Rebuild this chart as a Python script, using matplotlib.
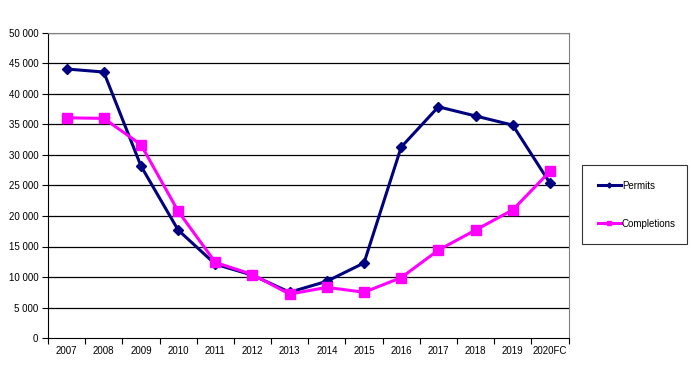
import matplotlib
matplotlib.use("Agg")
import matplotlib.pyplot as plt
import numpy as np

years = ["2007", "2008", "2009", "2010", "2011", "2012", "2013", "2014",
         "2015", "2016", "2017", "2018", "2019", "2020FC"]
permits = [44100, 43600, 28200, 17700, 12100, 10300, 7500, 9300,
           12300, 31300, 37900, 36400, 34900, 25400]
completions = [36100, 36000, 31700, 20800, 12400, 10400, 7200, 8300,
               7500, 9900, 14400, 17700, 21000, 27300]
yticks = list(range(0, 50001, 5000))

plt.rcParams['font.family'] = ['Liberation Sans', 'DejaVu Sans']

fig = plt.figure(figsize=(6.91, 3.72), dpi=100)
W, H = 691, 372
ax = fig.add_axes([48 / W, 1 - 338 / H, (568.5 - 48) / W, (338 - 33) / H])

x = np.arange(len(years))
ax.plot(x, permits, color="#000080", lw=2.2, marker="D", ms=5, label="Permits", zorder=3)
ax.plot(x, completions, color="#FF00FF", lw=2.2, marker="s", ms=7, label="Completions", zorder=3)

ax.set_xlim(-0.5, len(years) - 0.5)
ax.set_ylim(0, 50000)
ax.set_yticks(yticks)
ax.set_yticklabels([f"{v:,}".replace(",", " ") for v in yticks], fontsize=7)
for v in yticks[1:]:
    ax.axhline(v, color="black", lw=0.9, zorder=1)

ax.set_xticks(np.arange(-0.5, len(years)), minor=False)
ax.set_xticklabels([])
ax.set_xticks(x, minor=True)
ax.set_xticklabels(years, minor=True, fontsize=7)
ax.tick_params(axis="x", which="minor", length=0, pad=6)
ax.tick_params(axis="x", which="major", length=4, direction="out", width=0.8)
ax.tick_params(axis="y", length=4, direction="out", width=0.8, pad=3)

ax.spines["left"].set_color("black")
ax.spines["bottom"].set_color("black")
ax.spines["top"].set_color("#808080")
ax.spines["right"].set_color("#808080")

leg = fig.legend(loc="upper left",
                 bbox_to_anchor=(582 / W, 1 - 243 / H, 105 / W, 78 / H),
                 mode="expand", borderaxespad=0,
                 fontsize=7, frameon=True, fancybox=False, edgecolor="black",
                 borderpad=1.6, labelspacing=2.9, handlelength=2.4, handletextpad=0.1,
                 markerscale=0.5)
leg.get_frame().set_linewidth(0.8)

fig.savefig("out.png", dpi=100)
